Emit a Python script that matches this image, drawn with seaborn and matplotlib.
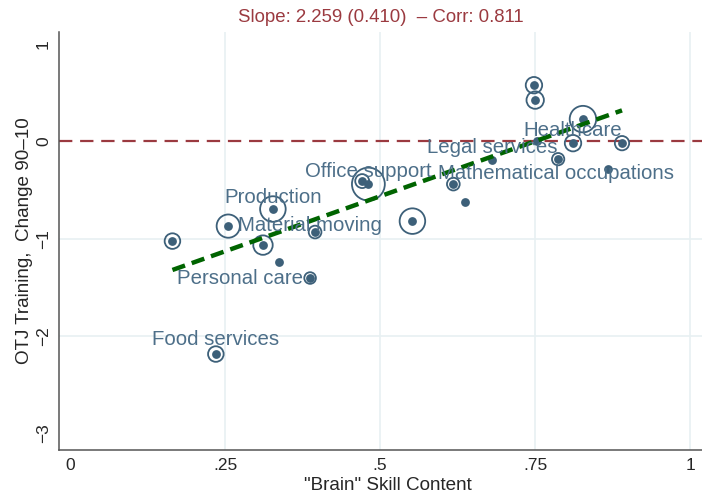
import matplotlib
matplotlib.use("Agg")
import matplotlib.pyplot as plt
import seaborn as sns
import pandas as pd

# Occupation groups: brain-skill content vs change in OTJ training (90-10)
brain_skill = [0.165, 0.255, 0.327, 0.311, 0.337, 0.387, 0.395, 0.235, 0.471, 0.481, 0.552,
               0.618, 0.637, 0.681, 0.748, 0.750, 0.753, 0.827, 0.811, 0.787, 0.868, 0.890]
otj_change = [-1.026, -0.872, -0.697, -1.067, -1.241, -1.405, -0.933, -2.185, -0.410, -0.441, -0.821,
              -0.441, -0.626, -0.195, 0.574, 0.421, 0.000, 0.226, -0.021, -0.185, -0.287, -0.021]
# employment weight (drives the size of the hollow circles)
emp_weight = [45, 100, 121, 70, 0, 25, 30, 45, 36, 200, 121,
              30, 0, 0, 50, 56, 0, 130, 50, 28, 0, 38]

labels = ["Food services", "Personal care", "Production", "Material moving", "Office support",
          "Legal services", "Mathematical occupations", "Healthcare"]
label_x = [0.234, 0.274, 0.327, 0.387, 0.481, 0.681, 0.784, 0.811]
label_y = [-2.04, -1.405, -0.574, -0.862, -0.308, -0.07, -0.328, 0.113]

slope, slope_se, corr = 2.259, 0.410, 0.811
intercept = -1.695

x_ticks = [0, 0.25, 0.5, 0.75, 1]
x_ticklabels = ["0", ".25", ".5", ".75", "1"]
y_ticks = [-3, -2, -1, 0, 1]
y_ticklabels = ["\u22123", "\u22122", "\u22121", "0", "1"]

sns.set_style("white")
plt.rcParams["font.family"] = ["Liberation Sans", "DejaVu Sans"]

df = pd.DataFrame({"x": brain_skill, "y": otj_change, "w": emp_weight})
ringed = df[df["w"] > 0]

dot_col = "#3d6079"
txt_col = "#4d6f89"
red = "#9b3a40"
axis_col = "#555555"

fig = plt.figure(figsize=(7.02, 4.96), dpi=100)
ax = fig.add_axes([0.084, 0.0927, 0.916, 0.8428])

ax.set_xlim(-0.018, 1.019)
ax.set_ylim(-3.17, 1.12)
for t in x_ticks[1:]:
    ax.axvline(t, color="#e8f0f2", lw=1.2, zorder=0)
for t in [-2, -1]:
    ax.axhline(t, color="#e8f0f2", lw=1.2, zorder=0)

ax.axhline(0, color=red, lw=1.6, dashes=(6, 3.5), zorder=1)

# hollow circles sized by weight (area proportional to weight)
wmax = max(emp_weight)
sns.scatterplot(data=ringed, x="x", y="y", size="w", sizes=(0, 560), size_norm=(0, wmax),
                facecolors="none", edgecolor=dot_col, linewidth=1.3, legend=False, ax=ax, zorder=3)
# center dots
sns.scatterplot(data=df, x="x", y="y", s=40, color=dot_col, edgecolor=dot_col, linewidth=0,
                legend=False, ax=ax, zorder=4)

# fitted line over the observed range
fit = pd.DataFrame({"x": [min(brain_skill), max(brain_skill)]})
fit["y"] = intercept + slope * fit["x"]
sns.lineplot(data=fit, x="x", y="y", color="#006400", lw=3.2, ax=ax, zorder=5)
ax.lines[-1].set_dashes((3.0, 1.6))

for lab, lx, ly in zip(labels, label_x, label_y):
    ax.text(lx, ly, lab, ha="center", va="center", color=txt_col, fontsize=14.7, zorder=6)

sns.despine(ax=ax, top=True, right=True)
for s in ["left", "bottom"]:
    ax.spines[s].set_color(axis_col)
    ax.spines[s].set_linewidth(1.1)

ax.set_xticks(x_ticks)
ax.set_xticklabels(x_ticklabels, fontsize=12.5)
ax.set_yticks(y_ticks)
ax.set_yticklabels(y_ticklabels, fontsize=12.5, rotation=90, va="center")
ax.tick_params(axis="both", direction="out", length=3.8, width=1, color=axis_col, pad=2)
ax.set_xlabel("\"Brain\" Skill Content", fontsize=13.6, labelpad=2)
ax.set_ylabel("OTJ Training,  Change 90\u201310", fontsize=13.6, labelpad=2)
ax.xaxis.set_label_coords(0.511, -0.065)
ax.set_title(f"Slope: {slope:.3f} ({slope_se:.3f})  \u2013 Corr: {corr:.3f}",
             fontsize=13.4, color=red, pad=7)

fig.savefig("out.png", dpi=100)
